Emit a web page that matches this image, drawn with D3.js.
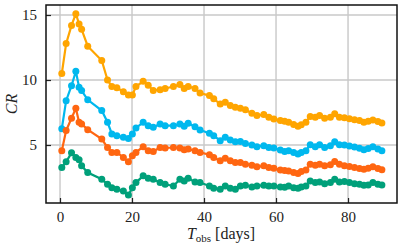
<!DOCTYPE html>
<html>
<head>
<meta charset="utf-8">
<script src="https://cdn.jsdelivr.net/npm/d3@7"></script>
<style>
  body { margin: 0; background: #fff; }
  text { font-family: "Liberation Serif", "DejaVu Serif", serif; }
</style>
</head>
<body>
<div id="graph"></div>
<script>
    // observation days (shared by all four curves)
    const days = [0.5, 1.7, 3.2, 4.4, 5.3, 6.0, 7.7, 11.6, 13.2, 14.4, 15.8, 17.6, 19.0, 20.1, 21.1,
        23.1, 24.5, 25.9, 27.8, 29.2, 31.5, 33.3, 34.5, 35.6, 37.5, 38.9, 41.5, 42.7, 44.5, 45.9,
        47.3, 48.7, 50.1, 51.5, 53.3, 54.7, 56.6, 58.0, 59.4, 61.2, 62.4, 63.5, 64.9, 66.1, 67.0,
        68.3, 69.5, 70.9, 72.1, 73.5, 75.1, 76.3, 77.6, 79.0, 80.4, 81.8, 83.2, 84.4, 85.6, 86.9,
        88.3, 89.4];

    const crOrange = [10.5, 12.8, 14.2, 15.1, 14.3, 13.9, 12.6, 11.5, 10.0, 9.5, 9.4, 9.1, 8.85, 8.85, 9.5,
        9.9, 9.6, 9.2, 9.25, 9.35, 9.5, 9.65, 9.35, 9.5, 9.35, 9.0, 8.8, 8.55, 8.15, 8.29,
        8.04, 7.91, 7.83, 7.71, 7.44, 7.27, 7.34, 7.13, 7.01, 6.88, 6.83, 6.75, 6.57, 6.44, 6.55,
        6.75, 7.19, 7.13, 7.27, 7.06, 7.13, 7.40, 7.13, 7.1, 7.03, 6.95, 6.88, 6.75, 6.83, 6.93,
        6.80, 6.70];

    const crBlue = [6.25, 8.41, 9.56, 10.67, 9.45, 9.19, 8.48, 7.65, 6.75, 5.85, 5.72, 5.59, 5.51, 5.85, 6.31,
        6.75, 6.49, 6.36, 6.62, 6.49, 6.49, 6.62, 6.44, 6.67, 6.41, 6.16, 5.9, 5.72, 5.33, 5.59,
        5.39, 5.26, 5.28, 5.12, 5.0, 4.87, 4.95, 4.81, 4.77, 4.61, 4.5, 4.56, 4.43, 4.30, 4.43,
        4.56, 5.02, 4.87, 5.02, 4.81, 4.95, 5.26, 5.02, 5.0, 4.92, 4.85, 4.75, 4.64, 4.74, 4.87,
        4.69, 4.56];

    const crRed = [4.56, 6.11, 7.06, 7.83, 6.75, 6.62, 6.18, 5.46, 4.81, 4.43, 4.43, 4.04, 3.71, 4.17, 4.43,
        4.87, 4.56, 4.51, 4.81, 4.77, 4.81, 4.77, 4.64, 4.69, 4.56, 4.43, 4.25, 4.04, 3.79, 3.99,
        3.79, 3.65, 3.65, 3.53, 3.45, 3.32, 3.40, 3.27, 3.22, 3.07, 3.04, 3.01, 2.88, 2.80, 2.96,
        3.07, 3.53, 3.45, 3.53, 3.40, 3.48, 3.73, 3.53, 3.40, 3.35, 3.28, 3.2, 3.14, 3.22, 3.32,
        3.19, 3.09];

    const crGreen = [3.27, 3.71, 4.4, 4.04, 3.86, 3.4, 2.88, 2.37, 1.98, 1.72, 1.6, 1.47, 1.15, 1.72, 2.11,
        2.63, 2.45, 2.37, 2.11, 1.98, 1.85, 2.37, 2.24, 2.45, 2.16, 2.11, 1.85, 1.67, 1.60, 1.85,
        1.67, 1.60, 1.85, 1.91, 1.77, 1.85, 1.91, 1.85, 1.85, 1.77, 1.75, 1.85, 1.72, 1.67, 1.77,
        1.85, 2.24, 2.11, 2.16, 2.03, 2.11, 2.37, 2.16, 2.2, 2.11, 2.03, 1.98, 1.9, 1.93, 2.11,
        1.98, 1.93];

    const xTicks = [0, 20, 40, 60, 80];
    const yTicks = [5, 10, 15];

    const series = [
        { values: crOrange, color: '#ffa500' },
        { values: crBlue, color: '#00b8ee' },
        { values: crRed, color: '#ff6611' },
        { values: crGreen, color: '#00a07a' }
    ];

    const w = 403;
    const h = 249;
    const pLeft = 46, pRight = 397, pTop = 5, pBottom = 203;

    const svg = d3.select('#graph')
        .append('svg')
        .attr('width', w)
        .attr('height', h);

    const xScale = d3.scaleLinear()
        .domain([-3.89, 93.6])
        .range([pLeft, pRight]);

    const yScale = d3.scaleLinear()
        .domain([0.54, 15.77])
        .range([pBottom, pTop]);

    // grid
    svg.append('g')
        .selectAll('line')
        .data(xTicks)
        .enter().append('line')
        .attr('x1', d => xScale(d)).attr('x2', d => xScale(d))
        .attr('y1', pTop).attr('y2', pBottom)
        .attr('stroke', '#c8c8c8')
        .attr('stroke-width', 1.4);

    svg.append('g')
        .selectAll('line')
        .data(yTicks)
        .enter().append('line')
        .attr('x1', pLeft).attr('x2', pRight)
        .attr('y1', d => yScale(d)).attr('y2', d => yScale(d))
        .attr('stroke', '#c8c8c8')
        .attr('stroke-width', 1.4);

    const line = d3.line()
        .x((d, i) => xScale(days[i]))
        .y(d => yScale(d));

    series.forEach(function (s) {
        svg.append('path')
            .datum(s.values)
            .attr('fill', 'none')
            .attr('stroke', s.color)
            .attr('stroke-width', 2.2)
            .attr('d', line);

        svg.append('g')
            .selectAll('circle')
            .data(s.values)
            .enter().append('circle')
            .attr('cx', (d, i) => xScale(days[i]))
            .attr('cy', d => yScale(d))
            .attr('r', 3.5)
            .attr('fill', s.color);
    });

    // axes with inward ticks
    const xAxis = d3.axisBottom(xScale)
        .tickValues(xTicks)
        .tickSize(-5)
        .tickPadding(8)
        .tickFormat(d3.format('d'));

    const yAxis = d3.axisLeft(yScale)
        .tickValues(yTicks)
        .tickSize(-5)
        .tickPadding(9)
        .tickFormat(d3.format('d'));

    const gx = svg.append('g')
        .attr('transform', 'translate(0,' + pBottom + ')')
        .call(xAxis);
    const gy = svg.append('g')
        .attr('transform', 'translate(' + pLeft + ',0)')
        .call(yAxis);

    [gx, gy].forEach(function (g) {
        g.select('.domain').remove();
        g.selectAll('.tick line').attr('stroke', '#222').attr('stroke-width', 1.2);
        g.selectAll('.tick text')
            .attr('fill', '#222')
            .style('font-size', '15px')
            .style('font-family', '"Liberation Serif", serif');
    });

    // frame
    svg.append('rect')
        .attr('x', pLeft).attr('y', pTop)
        .attr('width', pRight - pLeft).attr('height', pBottom - pTop)
        .attr('fill', 'none')
        .attr('stroke', '#111')
        .attr('stroke-width', 1.5);

    // axis labels
    const xl = svg.append('text')
        .attr('x', 221)
        .attr('y', 239)
        .attr('text-anchor', 'middle')
        .attr('fill', '#222')
        .style('font-size', '16px');
    xl.append('tspan').style('font-style', 'italic').text('T');
    xl.append('tspan').attr('dy', 3).style('font-size', '11px').text('obs');
    xl.append('tspan').attr('dy', -3).text(' [days]');

    svg.append('text')
        .attr('transform', 'translate(17,' + ((pTop + pBottom) / 2) + ') rotate(-90)')
        .attr('text-anchor', 'middle')
        .attr('fill', '#222')
        .style('font-size', '16px')
        .style('font-style', 'italic')
        .text('CR');
</script>
</body>
</html>
